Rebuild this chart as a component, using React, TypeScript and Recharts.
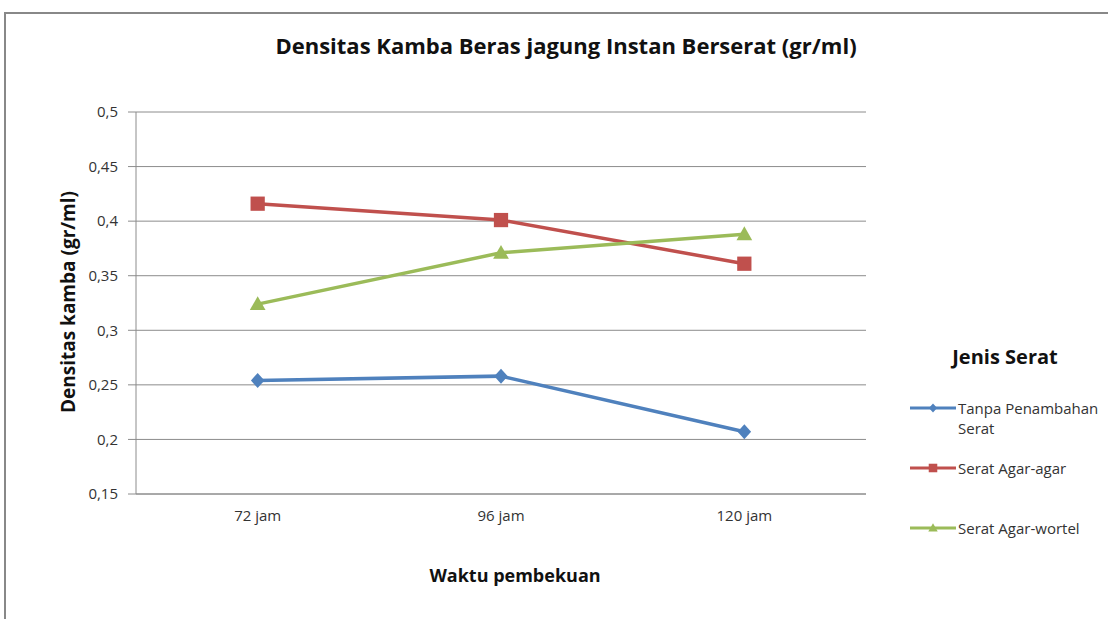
import React from 'react';
import { LineChart, Line, XAxis, YAxis, CartesianGrid, Legend } from 'recharts';

const WAKTU = ['72 jam', '96 jam', '120 jam'];
const TANPA_SERAT = [0.254, 0.258, 0.207];
const AGAR_AGAR = [0.416, 0.401, 0.361];
const AGAR_WORTEL = [0.324, 0.371, 0.388];
const Y_TICKS = [0.15, 0.2, 0.25, 0.3, 0.35, 0.4, 0.45, 0.5];
const EDGE_TICKS = [0, 1, 2, 3];

const SERIES = [
  { key: 'tanpa', name: 'Tanpa Penambahan Serat', color: '#4F81BD', shape: 'diamond' },
  { key: 'agar', name: 'Serat Agar-agar', color: '#C0504D', shape: 'square' },
  { key: 'wortel', name: 'Serat Agar-wortel', color: '#9BBB59', shape: 'triangle' },
];

const data = WAKTU.map((w, i) => ({
  waktu: w,
  pos: i + 0.5,
  tanpa: TANPA_SERAT[i],
  agar: AGAR_AGAR[i],
  wortel: AGAR_WORTEL[i],
}));

const FONT = '"Open Sans", sans-serif';
const GRID = '#8c8c8c';

const Marker = ({ shape, color, cx, cy, r }: any) => {
  if (cx == null || cy == null) return null;
  if (shape === 'diamond') {
    return <polygon points={`${cx},${cy - r} ${cx + r * 0.9},${cy} ${cx},${cy + r} ${cx - r * 0.9},${cy}`} fill={color} />;
  }
  if (shape === 'square') {
    return <rect x={cx - r * 0.95} y={cy - r * 0.95} width={r * 1.9} height={r * 1.9} fill={color} />;
  }
  return <polygon points={`${cx},${cy - r * 1.05} ${cx + r * 1.05},${cy + r * 0.8} ${cx - r * 1.05},${cy + r * 0.8}`} fill={color} />;
};

const LegendBox = () => (
  <div style={{ fontFamily: FONT, color: '#333' }}>
    <div style={{ fontWeight: 700, fontSize: 20, lineHeight: '28px', textAlign: 'center', marginBottom: 27, color: '#111' }}>Jenis Serat</div>
    {SERIES.map((s) => (
      <div key={s.key} style={{ display: 'flex', alignItems: 'flex-start', height: 60 }}>
        <svg width={48} height={20} style={{ flex: 'none' }}>
          <line x1={0} x2={46} y1={10} y2={10} stroke={s.color} strokeWidth={3} />
          <Marker shape={s.shape} color={s.color} cx={23} cy={10} r={4.5} />
        </svg>
        <div style={{ fontSize: 15, lineHeight: '20px', width: 150 }}>{s.name === 'Tanpa Penambahan Serat' ? <>Tanpa Penambahan<br />Serat</> : s.name}</div>
      </div>
    ))}
  </div>
);

export default function App() {
  return (
    <div style={{ position: 'absolute', left: 0, top: 0, width: 1108, height: 619, overflow: 'hidden', background: '#fff' }}>
      <div style={{ position: 'absolute', left: 4, top: 12, width: 1200, height: 700, border: '2px solid #888' }} />
      <div style={{ position: 'absolute', left: 0, top: 30, width: 1132, textAlign: 'center', fontFamily: FONT, fontWeight: 700, fontSize: 22, lineHeight: '30px', color: '#111' }}>
        Densitas Kamba Beras jagung Instan Berserat (gr/ml)
      </div>
      <div style={{ position: 'absolute', left: 68, top: 302, transform: 'translate(-50%, -50%) rotate(-90deg)', whiteSpace: 'nowrap', fontFamily: FONT, fontWeight: 700, fontSize: 19, color: '#111' }}>
        Densitas kamba (gr/ml)
      </div>
      <div style={{ position: 'absolute', left: 515, top: 575, transform: 'translate(-50%, -50%)', whiteSpace: 'nowrap', fontFamily: FONT, fontWeight: 700, fontSize: 18, color: '#111' }}>
        Waktu pembekuan
      </div>
      <div style={{ position: 'absolute', left: 0, top: 0 }}>
        <LineChart width={1108} height={619} data={data} margin={{ top: 112, right: 242, bottom: 89, left: 76 }}>
          <CartesianGrid vertical={false} stroke={GRID} />
          <XAxis dataKey="pos" type="number" domain={[0, 3]} ticks={EDGE_TICKS} interval={0} allowDataOverflow tick={false} tickSize={5} height={5} stroke={GRID} />
          <XAxis xAxisId="cat" dataKey="waktu" scale="band" axisLine={false} tickLine={false} tickSize={0} tickMargin={11} height={31} tick={{ fill: '#333', fontSize: 15, fontFamily: FONT }} />
          <YAxis
            domain={[0.15, 0.5]}
            ticks={Y_TICKS}
            interval={0}
            width={60}
            stroke={GRID}
            tickSize={8}
            tickMargin={10}
            tickFormatter={(v: number) => String(v).replace('.', ',')}
            tick={{ fill: '#333', fontSize: 15, fontFamily: FONT }}
          />
          {SERIES.map((s) => (
            <Line
              key={s.key}
              xAxisId="cat"
              dataKey={s.key}
              name={s.name}
              stroke={s.color}
              strokeWidth={3.5}
              isAnimationActive={false}
              dot={(p: any) => <Marker key={`${s.key}-${p.index}`} shape={s.shape} color={s.color} cx={p.cx} cy={p.cy} r={7.5} />}
              activeDot={false}
            />
          ))}
          <Legend layout="horizontal" verticalAlign="middle" align="center" content={() => <LegendBox />} wrapperStyle={{ left: 910, top: 343, width: 190 }} />
        </LineChart>
      </div>
    </div>
  );
}
